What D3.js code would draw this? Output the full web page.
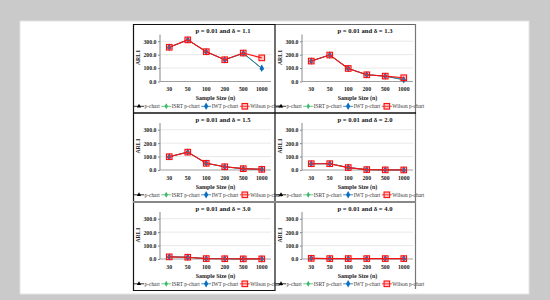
<!DOCTYPE html>
<html>
<head>
<meta charset="utf-8">
<script src="https://cdn.jsdelivr.net/npm/d3@7"></script>
<style>
  body { margin: 0; background: #cacaca; }
  svg { display: block; font-family: "Liberation Serif", "Times New Roman", serif; }
</style>
</head>
<body>
<div id="chart"></div>
<script>
// 데이터
const sampleSizes = ["30", "50", "100", "200", "500", "1000"];
const titles = [
    "p = 0.01 and δ = 1.1", "p = 0.01 and δ = 1.3",
    "p = 0.01 and δ = 1.5", "p = 0.01 and δ = 2.0",
    "p = 0.01 and δ = 3.0", "p = 0.01 and δ = 4.0"
];
const seriesNames = ["p-chart", "ISRT p-chart", "IWT p-chart", "Wilson p-chart"];
const pChart = [
    [255, 310, 222, 162, 210, 98],
    [152, 198, 97, 50, 40, 14],
    [99, 133, 50, 24, 10, 5],
    [47, 47, 18, 3, 1, 0.5],
    [16, 13, 3, 2, 1, 1],
    [5, 3, 3, 3, 3, 3]
];
const isrtChart = [
    [255, 310, 222, 162, 210, 98],
    [152, 198, 97, 50, 40, 14],
    [99, 133, 50, 24, 10, 5],
    [47, 47, 18, 3, 1, 0.5],
    [16, 13, 3, 2, 1, 1],
    [5, 3, 3, 3, 3, 3]
];
const iwtChart = [
    [255, 310, 222, 162, 210, 98],
    [152, 198, 97, 50, 40, 13],
    [99, 133, 50, 24, 10, 5],
    [47, 47, 18, 3, 1, 0.5],
    [16, 13, 3, 2, 1, 1],
    [5, 3, 3, 3, 3, 3]
];
const wilsonChart = [
    [255, 310, 222, 162, 212, 176],
    [152, 197, 97, 50, 40, 28],
    [99, 133, 50, 24, 10, 5],
    [47, 47, 18, 3, 1, 0.5],
    [16, 13, 3, 2, 1, 1],
    [5, 3, 3, 3, 3, 3]
];
const yTicks = [0, 100, 200, 300];

const width = 550;
const height = 300;
const colors = ["#000000", "#3cb96a", "#0a6fc2", "#ff1010"];

const svg = d3.select("#chart").append("svg")
    .attr("width", width)
    .attr("height", height);

// 배경
svg.append("rect").attr("width", width).attr("height", height).attr("fill", "#cacaca");
svg.append("rect").attr("x", 20).attr("y", 21).attr("width", 509).attr("height", 273)
    .attr("fill", "#ffffff").attr("stroke", "#e4e4e4");

const panelOrigins = [[133, 24.5], [275, 24.5], [133, 113], [275, 113], [133, 202], [275, 202]];

// 마커 그리기
function drawMarker(g, s, x, y) {
    if (s === 0) {
        g.append("path").attr("d", d3.symbol(d3.symbolTriangle, 8)())
            .attr("transform", `translate(${x},${y})`).attr("fill", colors[0]);
    } else if (s === 1) {
        g.append("path").attr("d", d3.symbol(d3.symbolDiamond, 10)())
            .attr("transform", `translate(${x},${y})`).attr("fill", colors[1]);
    } else if (s === 2) {
        g.append("path").attr("d", d3.symbol(d3.symbolDiamond, 16)())
            .attr("transform", `translate(${x},${y})`).attr("fill", colors[2]);
    } else {
        g.append("rect").attr("x", x - 2.8).attr("y", y - 2.8).attr("width", 5.6).attr("height", 5.6)
            .attr("fill", "rgba(255,60,60,0.3)").attr("stroke", colors[3]).attr("stroke-width", 1.1);
    }
}

panelOrigins.forEach(([px, py], i) => {
    const g = svg.append("g").attr("transform", `translate(${px},${py})`);
    const x = d3.scalePoint().domain(sampleSizes).range([27, 138]).padding(0.5);
    const y = d3.scaleLinear().domain([0, 350]).range([57, 10]);

    // 격자선
    g.selectAll(".grid").data(yTicks.slice(1)).enter().append("line")
        .attr("x1", 27).attr("x2", 138)
        .attr("y1", d => y(d)).attr("y2", d => y(d))
        .attr("stroke", "#e2e2e2").attr("stroke-width", 0.8);

    // y축
    const yAxis = g.append("g").attr("transform", "translate(27,0)")
        .call(d3.axisLeft(y).tickValues(yTicks).tickSize(2).tickPadding(1.5).tickFormat(d3.format(".1f")));
    yAxis.select(".domain").attr("stroke", "#888").attr("d", `M-0,${y(350)}V${y(0)}`);
    yAxis.selectAll(".tick line").attr("stroke", "#888");
    yAxis.selectAll("text").attr("font-size", 5.8).attr("font-weight", "bold").attr("fill", "#222")
        .attr("font-family", "Liberation Serif");

    // x축
    g.append("line").attr("x1", 27).attr("x2", 138).attr("y1", y(0)).attr("y2", y(0))
        .attr("stroke", "#888").attr("stroke-width", 0.8);
    g.selectAll(".xl").data(sampleSizes).enter().append("text")
        .attr("x", d => x(d)).attr("y", 66.5)
        .attr("text-anchor", "middle").attr("font-size", 5.8).attr("font-weight", "bold")
        .attr("fill", "#222").text(d => d);

    // 제목
    g.append("text").attr("x", 90).attr("y", 8.5).attr("text-anchor", "middle")
        .attr("font-size", 6.6).attr("font-weight", "bold").attr("fill", "#111").text(titles[i]);
    g.append("text").attr("x", 82.5).attr("y", 75.5).attr("text-anchor", "middle")
        .attr("font-size", 6).attr("font-weight", "bold").attr("fill", "#222").text("Sample Size (n)");
    g.append("text").attr("transform", `translate(7,${33}) rotate(-90)`)
        .attr("text-anchor", "middle").attr("font-size", 5.8).attr("font-weight", "bold")
        .attr("fill", "#222").text("ARL1");

    // 선과 마커
    const all = [pChart[i], isrtChart[i], iwtChart[i], wilsonChart[i]];
    const line = d3.line().x((d, j) => x(sampleSizes[j])).y(d => y(d));
    all.forEach((vals, s) => {
        g.append("path").datum(vals).attr("d", line)
            .attr("fill", "none").attr("stroke", colors[s]).attr("stroke-width", s === 3 ? 1.1 : 0.6);
        vals.forEach((v, j) => drawMarker(g, s, x(sampleSizes[j]), y(v)));
    });

    // 범례
    const leg = g.append("g").attr("transform", "translate(1,81.8)");
    let lx = 0;
    seriesNames.forEach((name, s) => {
        leg.append("line").attr("x1", lx).attr("x2", lx + 10).attr("y1", 0).attr("y2", 0)
            .attr("stroke", colors[s]).attr("stroke-width", 0.8);
        drawMarker(leg, s, lx + 5, 0);
        const t = leg.append("text").attr("x", lx + 10.5).attr("y", 1.9)
            .attr("font-size", 5.4).attr("fill", "#333").text(name);
        lx += 10.5 + t.node().getComputedTextLength() + 1.5;
    });
});

// 패널 테두리
const border = svg.append("g").attr("fill", "none");
border.append("line").attr("x1", 133).attr("x2", 275).attr("y1", 24.5).attr("y2", 24.5).attr("stroke", "#111").attr("stroke-width", 1.2);
border.append("line").attr("x1", 275).attr("x2", 416).attr("y1", 24.5).attr("y2", 24.5).attr("stroke", "#666").attr("stroke-width", 1.2);
border.append("line").attr("x1", 133.5).attr("x2", 133.5).attr("y1", 24).attr("y2", 291).attr("stroke", "#111").attr("stroke-width", 1.2);
border.append("line").attr("x1", 275).attr("x2", 275).attr("y1", 24).attr("y2", 291).attr("stroke", "#111").attr("stroke-width", 1.2);
border.append("line").attr("x1", 415.5).attr("x2", 415.5).attr("y1", 24).attr("y2", 289).attr("stroke", "#777").attr("stroke-width", 1.2);
border.append("line").attr("x1", 133).attr("x2", 416).attr("y1", 113).attr("y2", 113).attr("stroke", "#111").attr("stroke-width", 1.4);
border.append("line").attr("x1", 133).attr("x2", 416).attr("y1", 202).attr("y2", 202).attr("stroke", "#888").attr("stroke-width", 2);
border.append("line").attr("x1", 133).attr("x2", 275).attr("y1", 290.5).attr("y2", 290.5).attr("stroke", "#111").attr("stroke-width", 1.2);
</script>
</body>
</html>
